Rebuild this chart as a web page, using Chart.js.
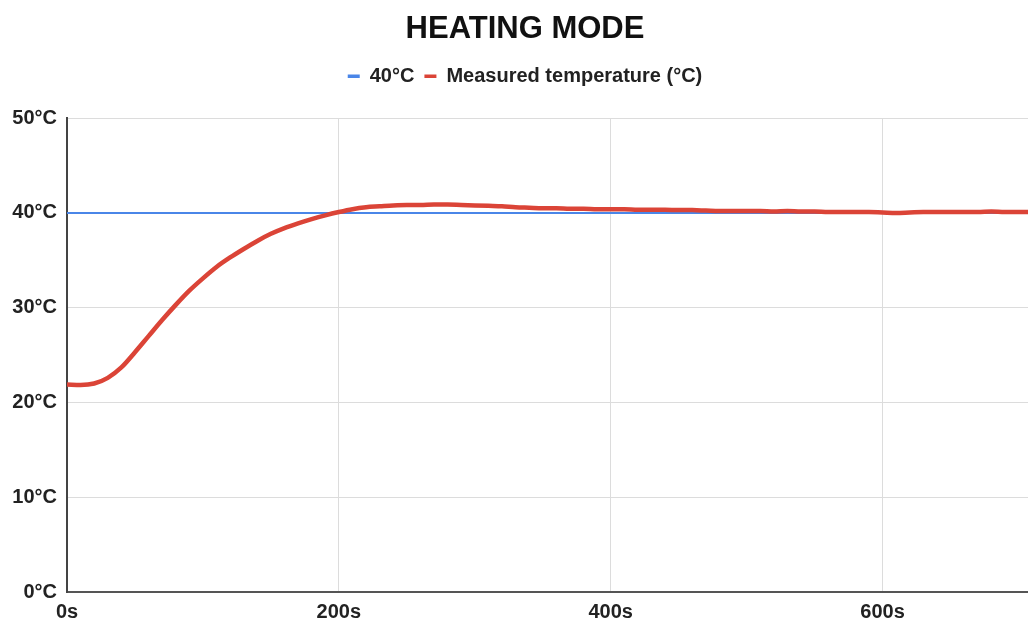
<!DOCTYPE html>
<html lang="en">
<head>
    <meta charset="UTF-8">
    <title>Heating mode</title>
    <script src="https://cdn.jsdelivr.net/npm/chart.js"></script>
    <style>
        html, body { margin: 0; padding: 0; background: #fff; }
        canvas { display: block; }
    </style>
</head>
<body>
    <canvas id="myChart" width="1028" height="621"></canvas>
    <script>
        // time in seconds
        var timeSec = [0, 10, 20, 30, 40, 50, 60, 70, 80, 90,
            100, 110, 120, 130, 140, 150, 160, 170, 180, 190,
            200, 210, 220, 230, 240, 250, 260, 270, 280, 290,
            300, 310, 320, 330, 340, 350, 360, 370, 380, 390,
            400, 410, 420, 430, 440, 450, 460, 470, 480, 490,
            500, 510, 520, 530, 540, 550, 560, 570, 580, 590,
            600, 610, 620, 630, 640, 650, 660, 670, 680, 690,
            700, 707];
        // measured temperature in °C
        var measuredTemp = [21.9, 21.85, 22.0, 22.6, 23.7, 25.3, 27.0, 28.7, 30.3, 31.8,
            33.1, 34.3, 35.3, 36.2, 37.05, 37.8, 38.4, 38.9, 39.35, 39.75,
            40.1, 40.4, 40.6, 40.7, 40.8, 40.85, 40.85, 40.9, 40.9, 40.85,
            40.8, 40.75, 40.7, 40.6, 40.55, 40.5, 40.5, 40.45, 40.45, 40.4,
            40.4, 40.4, 40.35, 40.35, 40.35, 40.3, 40.3, 40.25, 40.2, 40.2,
            40.2, 40.2, 40.15, 40.2, 40.15, 40.15, 40.1, 40.1, 40.1, 40.1,
            40.05, 40.0, 40.05, 40.1, 40.1, 40.1, 40.1, 40.1, 40.15, 40.1,
            40.1, 40.1];
        var setpointTime = [0, 707];
        var setpointTemp = [40, 40];
        var yTicks = [0, 10, 20, 30, 40, 50];

        function toPoints(xs, ys) {
            var pts = [];
            for (var i = 0; i < xs.length; i++) {
                pts.push({ x: xs[i], y: ys[i] });
            }
            return pts;
        }

        var font = "'Liberation Sans', Arial, sans-serif";

        // extra space under the legend
        var legendGap = {
            id: 'legendGap',
            beforeInit: function (chart) {
                var fit = chart.legend.fit;
                chart.legend.fit = function () {
                    fit.bind(chart.legend)();
                    this.height += 22;
                };
            }
        };

        var ctx = document.getElementById('myChart').getContext('2d');
        var myChart = new Chart(ctx, {
            type: 'line',
            data: {
                datasets: [
                    {
                        label: '40°C',
                        data: toPoints(setpointTime, setpointTemp),
                        borderColor: '#4a86e8',
                        backgroundColor: '#4a86e8',
                        borderWidth: 2,
                        pointRadius: 0,
                        order: 2
                    },
                    {
                        label: 'Measured temperature (°C)',
                        data: toPoints(timeSec, measuredTemp),
                        borderColor: '#db4437',
                        backgroundColor: '#db4437',
                        borderWidth: 4.5,
                        pointRadius: 0,
                        cubicInterpolationMode: 'monotone',
                        order: 1
                    }
                ]
            },
            options: {
                responsive: false,
                animation: false,
                devicePixelRatio: 1,
                // negative right padding centres title/legend like the cropped original
                layout: { padding: { left: 0, right: -22, top: 0, bottom: -11 } },
                plugins: {
                    title: {
                        display: true,
                        text: 'HEATING MODE',
                        color: '#111',
                        font: { family: font, size: 31, weight: 'bold' },
                        padding: { top: 11, bottom: 8 }
                    },
                    legend: {
                        display: true,
                        labels: {
                            usePointStyle: true,
                            pointStyle: 'line',
                            pointStyleWidth: 12,
                            color: '#222',
                            font: { family: font, size: 20, weight: 'bold' },
                            padding: 10,
                            sort: function (a, b) { return a.datasetIndex - b.datasetIndex; },
                            generateLabels: function (chart) {
                                var items = Chart.defaults.plugins.legend.labels.generateLabels(chart);
                                items.forEach(function (it) { it.lineWidth = 3.5; });
                                return items;
                            }
                        }
                    },
                    tooltip: { enabled: false }
                },
                scales: {
                    x: {
                        type: 'linear',
                        min: 0,
                        max: 707,
                        grid: { color: '#dcdcdc', lineWidth: 1, drawTicks: false },
                        border: { color: '#555', width: 2 },
                        ticks: {
                            stepSize: 200,
                            includeBounds: false,
                            padding: 8,
                            color: '#222',
                            font: { family: font, size: 20, weight: 'bold' },
                            maxRotation: 0,
                            callback: function (v) { return v + 's'; }
                        }
                    },
                    y: {
                        min: 0,
                        max: 50,
                        afterBuildTicks: function (scale) {
                            scale.ticks = yTicks.map(function (v) { return { value: v }; });
                        },
                        afterFit: function (scale) { scale.width = 67; },
                        grid: { color: '#dcdcdc', lineWidth: 1, drawTicks: false },
                        border: { color: '#444', width: 2 },
                        ticks: {
                            padding: 10,
                            color: '#222',
                            font: { family: font, size: 20, weight: 'bold' },
                            callback: function (v) { return v + '°C'; }
                        }
                    }
                }
            },
            plugins: [legendGap]
        });
    </script>
</body>
</html>
